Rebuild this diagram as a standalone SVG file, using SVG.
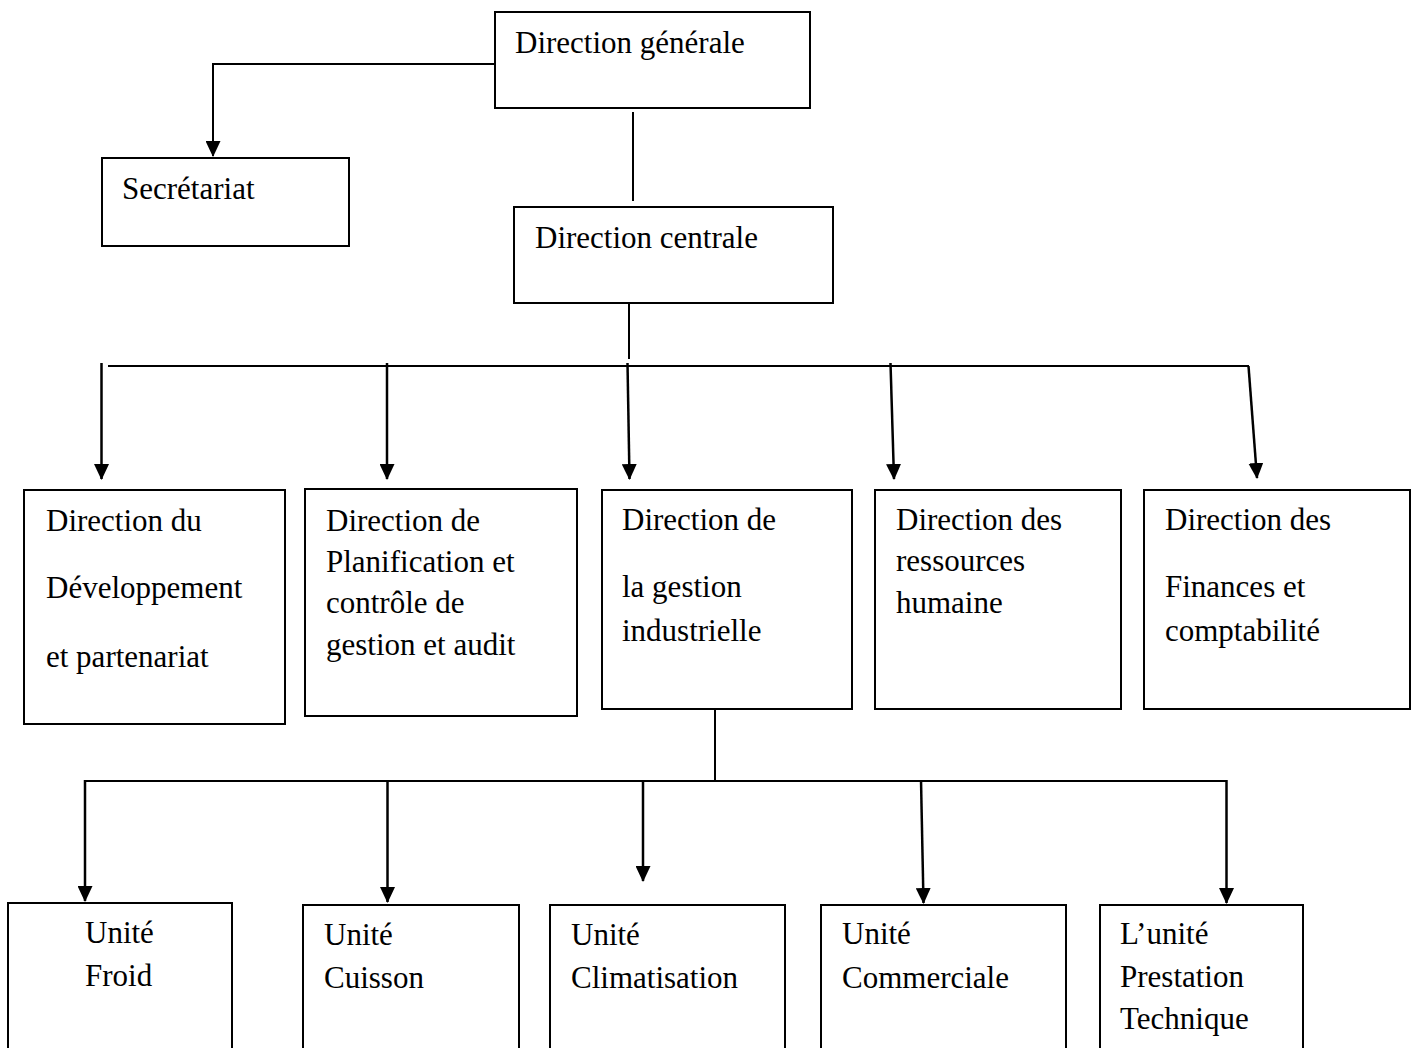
<svg xmlns="http://www.w3.org/2000/svg" width="1412" height="1048" viewBox="0 0 1412 1048">
<style>
.box{fill:#fff;stroke:#000;stroke-width:2}
.t{font-family:"Liberation Serif","Times New Roman",serif;font-size:31px;fill:#000}
.c{fill:none;stroke:#000;stroke-width:2}
.a{fill:none;stroke:#000;stroke-width:2.5;marker-end:url(#ah)}
</style>
<defs>
<marker id="ah" viewBox="0 0 16 15" refX="15" refY="7.5" markerWidth="16" markerHeight="15" markerUnits="userSpaceOnUse" orient="auto">
<path d="M0,0 L16,7.5 L0,15 Z" fill="#000"/>
</marker>
</defs>
<rect width="1412" height="1048" fill="#fff"/>
<g id="connectors">
<path class="c" d="M496,64 H213 V140"/>
<path class="a" d="M213,64 V156" style="stroke-width:2"/>
<line class="c" x1="633" y1="112" x2="633" y2="201"/>
<line class="c" x1="629" y1="303" x2="629" y2="359"/>
<line class="c" x1="108" y1="366" x2="1249" y2="366"/>
<line class="a" x1="101.5" y1="363" x2="101.5" y2="479"/>
<line class="a" x1="387" y1="363" x2="387" y2="479"/>
<line class="a" x1="627.5" y1="363" x2="629.5" y2="479"/>
<line class="a" x1="890.5" y1="363" x2="894" y2="479"/>
<line class="a" x1="1248.5" y1="366" x2="1257" y2="478"/>
<line class="c" x1="715" y1="710" x2="715" y2="781"/>
<line class="c" x1="85" y1="781" x2="1227" y2="781"/>
<line class="a" x1="85" y1="780" x2="85" y2="901"/>
<line class="a" x1="387.5" y1="780" x2="387.5" y2="902"/>
<line class="a" x1="643" y1="780" x2="643" y2="881"/>
<line class="a" x1="921" y1="780" x2="923.5" y2="903"/>
<line class="a" x1="1226.5" y1="780" x2="1226.5" y2="903"/>
</g>
<g id="direction-generale">
<rect class="box" x="495" y="12" width="315" height="96"/>
<text class="t" x="515" y="53">Direction générale</text>
</g>
<g id="secretariat">
<rect class="box" x="102" y="158" width="247" height="88"/>
<text class="t" x="122" y="199">Secrétariat</text>
</g>
<g id="direction-centrale">
<rect class="box" x="514" y="207" width="319" height="96"/>
<text class="t" x="535" y="248">Direction centrale</text>
</g>
<g id="dir-developpement">
<rect class="box" x="24" y="490" width="261" height="234"/>
<text class="t" x="46" y="531">Direction du</text>
<text class="t" x="46" y="598">Développement</text>
<text class="t" x="46" y="667">et partenariat</text>
</g>
<g id="dir-planification">
<rect class="box" x="305" y="489" width="272" height="227"/>
<text class="t" x="326" y="531">Direction de</text>
<text class="t" x="326" y="572">Planification et</text>
<text class="t" x="326" y="613">contrôle de</text>
<text class="t" x="326" y="655">gestion et audit</text>
</g>
<g id="dir-gestion-industrielle">
<rect class="box" x="602" y="490" width="250" height="219"/>
<text class="t" x="622" y="530">Direction de</text>
<text class="t" x="622" y="597">la gestion</text>
<text class="t" x="622" y="641">industrielle</text>
</g>
<g id="dir-ressources-humaines">
<rect class="box" x="875" y="490" width="246" height="219"/>
<text class="t" x="896" y="530">Direction des</text>
<text class="t" x="896" y="571">ressources</text>
<text class="t" x="896" y="613">humaine</text>
</g>
<g id="dir-finances">
<rect class="box" x="1144" y="490" width="266" height="219"/>
<text class="t" x="1165" y="530">Direction des</text>
<text class="t" x="1165" y="597">Finances et</text>
<text class="t" x="1165" y="641">comptabilité</text>
</g>
<g id="unite-froid">
<rect class="box" x="8" y="903" width="224" height="160"/>
<text class="t" x="85" y="943">Unité</text>
<text class="t" x="85" y="986">Froid</text>
</g>
<g id="unite-cuisson">
<rect class="box" x="303" y="905" width="216" height="160"/>
<text class="t" x="324" y="945">Unité</text>
<text class="t" x="324" y="988">Cuisson</text>
</g>
<g id="unite-climatisation">
<rect class="box" x="550" y="905" width="235" height="160"/>
<text class="t" x="571" y="945">Unité</text>
<text class="t" x="571" y="988">Climatisation</text>
</g>
<g id="unite-commerciale">
<rect class="box" x="821" y="905" width="245" height="160"/>
<text class="t" x="842" y="944">Unité</text>
<text class="t" x="842" y="988">Commerciale</text>
</g>
<g id="unite-prestation">
<rect class="box" x="1100" y="905" width="203" height="160"/>
<text class="t" x="1120" y="944">L’unité</text>
<text class="t" x="1120" y="987">Prestation</text>
<text class="t" x="1120" y="1029">Technique</text>
</g>
</svg>
